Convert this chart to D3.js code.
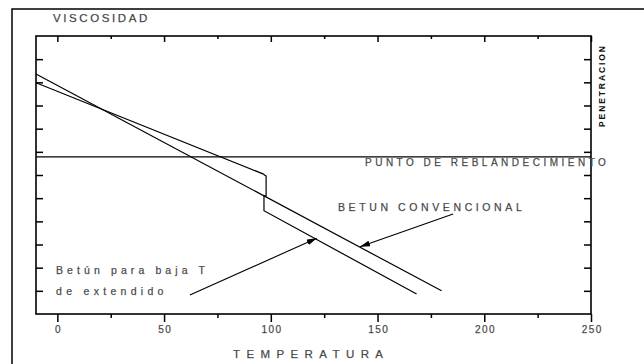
<!DOCTYPE html>
<html>
<head>
<meta charset="utf-8">
<script src="https://cdn.jsdelivr.net/npm/d3@7"></script>
<style>
  body { margin: 0; background: #fff; }
  svg { display: block; font-family: "Liberation Sans", Arial, sans-serif; }
  .lbl { fill: #2e2e2e; stroke: #777; stroke-width: 0.25px; }
</style>
</head>
<body>
<div id="chart"></div>
<script>
// tick values
let majorTicks = [0, 50, 100, 150, 200, 250];
let minorTicks = [25, 75, 125, 175, 225];
let yTicks = [1, 2, 3, 4, 5, 6, 7, 8, 9, 10, 11];

// series (temperature, relative viscosity)
let convencional = [[-10, 10.36], [180, 1.0]];
let bajaT = [[-10, 9.98], [96.3, 6.05], [97.8, 5.95], [97.8, 5.1], [96.8, 5.1], [96.8, 4.46], [168.3, 0.86]];
let reblandecimiento = 6.78;

// annotation arrows [from, to]
let arrowConv = [[185.4, 4.32], [141.8, 2.9]];
let arrowBaja = [[62.1, 0.82], [121.5, 3.27]];

const width = 644, height = 364;
const margin = ({top: 36, right: 53, bottom: 50, left: 36});

let x = d3.scaleLinear().domain([-10, 250]).range([margin.left, width - margin.right]);
let y = d3.scaleLinear().domain([0, 12]).range([height - margin.bottom, margin.top]);

let svg = d3.select("#chart").append("svg")
    .attr("width", width)
    .attr("height", height);

svg.append("defs").append("marker")
    .attr("id", "head")
    .attr("viewBox", "0 0 10 6")
    .attr("refX", 10).attr("refY", 3)
    .attr("markerWidth", 10).attr("markerHeight", 6)
    .attr("markerUnits", "userSpaceOnUse")
    .attr("orient", "auto")
  .append("path")
    .attr("d", "M0,0 L10,3 L0,6 Z")
    .attr("fill", "#000");

// outer frame
svg.append("rect")
    .attr("x", 12).attr("y", 9)
    .attr("width", 660).attr("height", 380)
    .attr("fill", "none").attr("stroke", "#000").attr("stroke-width", 1.5);

// plot frame
svg.append("rect")
    .attr("x", x(-10)).attr("y", y(12))
    .attr("width", x(250) - x(-10)).attr("height", y(0) - y(12))
    .attr("fill", "none").attr("stroke", "#000").attr("stroke-width", 1.6);

function tickAxis(axis, vals, size) {
  return axis.tickValues(vals).tickSize(size).tickSizeOuter(0).tickFormat("");
}

// bottom: outward ticks with labels
let bottomMajor = svg.append("g")
    .attr("transform", `translate(0,${y(0)})`)
    .call(d3.axisBottom(x).tickValues(majorTicks).tickSize(8).tickSizeOuter(0).tickPadding(4));
svg.append("g")
    .attr("transform", `translate(0,${y(0)})`)
    .call(tickAxis(d3.axisBottom(x), minorTicks, 4));

// top: inward ticks
svg.append("g")
    .attr("transform", `translate(0,${y(12)})`)
    .call(tickAxis(d3.axisBottom(x), majorTicks, 6));
svg.append("g")
    .attr("transform", `translate(0,${y(12)})`)
    .call(tickAxis(d3.axisBottom(x), minorTicks, 3));

// left / right: inward ticks
svg.append("g")
    .attr("transform", `translate(${x(-10)},0)`)
    .call(tickAxis(d3.axisRight(y), yTicks, 7));
svg.append("g")
    .attr("transform", `translate(${x(250)},0)`)
    .call(tickAxis(d3.axisLeft(y), yTicks, 7));

svg.selectAll(".domain").remove();
svg.selectAll(".tick line").attr("stroke", "#000").attr("stroke-width", 1.5);

bottomMajor.selectAll(".tick text")
    .attr("class", "lbl")
    .style("font-size", "10px")
    .style("letter-spacing", "1.4px")
    .style("font-family", "Liberation Sans, Arial, sans-serif")
    .attr("dx", "0.7px");

// softening point line
svg.append("line")
    .attr("x1", x(-10)).attr("x2", x(250))
    .attr("y1", y(reblandecimiento)).attr("y2", y(reblandecimiento))
    .attr("stroke", "#000").attr("stroke-width", 1.3);

let line = d3.line().x(d => x(d[0])).y(d => y(d[1]));

svg.append("path").datum(convencional)
    .attr("d", line).attr("fill", "none").attr("stroke", "#000").attr("stroke-width", 1.2);
svg.append("path").datum(bajaT)
    .attr("d", line).attr("fill", "none").attr("stroke", "#000").attr("stroke-width", 1.2);

[arrowConv, arrowBaja].forEach(a => {
  svg.append("path").datum(a)
    .attr("d", line).attr("fill", "none").attr("stroke", "#000").attr("stroke-width", 1.1)
    .attr("marker-end", "url(#head)");
});

// labels
svg.append("text").attr("class", "lbl")
    .attr("x", 53).attr("y", 21.5)
    .style("font-size", "11.5px").style("letter-spacing", "2.6px")
    .text("VISCOSIDAD");

svg.append("text").attr("class", "lbl")
    .attr("x", 233).attr("y", 358)
    .style("font-size", "11.5px").style("letter-spacing", "6.4px")
    .text("TEMPERATURA");

svg.append("text").attr("class", "lbl")
    .attr("x", 365).attr("y", y(reblandecimiento) + 9.5)
    .style("font-size", "10px").style("letter-spacing", "3.5px")
    .text("PUNTO DE REBLANDECIMIENTO");

svg.append("text").attr("class", "lbl")
    .attr("x", 338).attr("y", 210.5)
    .style("font-size", "10.5px").style("letter-spacing", "3.6px")
    .text("BETUN CONVENCIONAL");

svg.append("text").attr("class", "lbl")
    .attr("x", 56).attr("y", 274)
    .style("font-size", "10.5px").style("letter-spacing", "4.1px")
    .text("Betún para baja T");

svg.append("text").attr("class", "lbl")
    .attr("x", 56).attr("y", 294.5)
    .style("font-size", "10.5px").style("letter-spacing", "4.3px")
    .text("de extendido");

svg.append("text")
    .attr("transform", "translate(605,127) rotate(-90)")
    .style("font-size", "8.5px").style("font-weight", "bold").style("letter-spacing", "1.9px")
    .attr("fill", "#111")
    .text("PENETRACION");
</script>
</body>
</html>
